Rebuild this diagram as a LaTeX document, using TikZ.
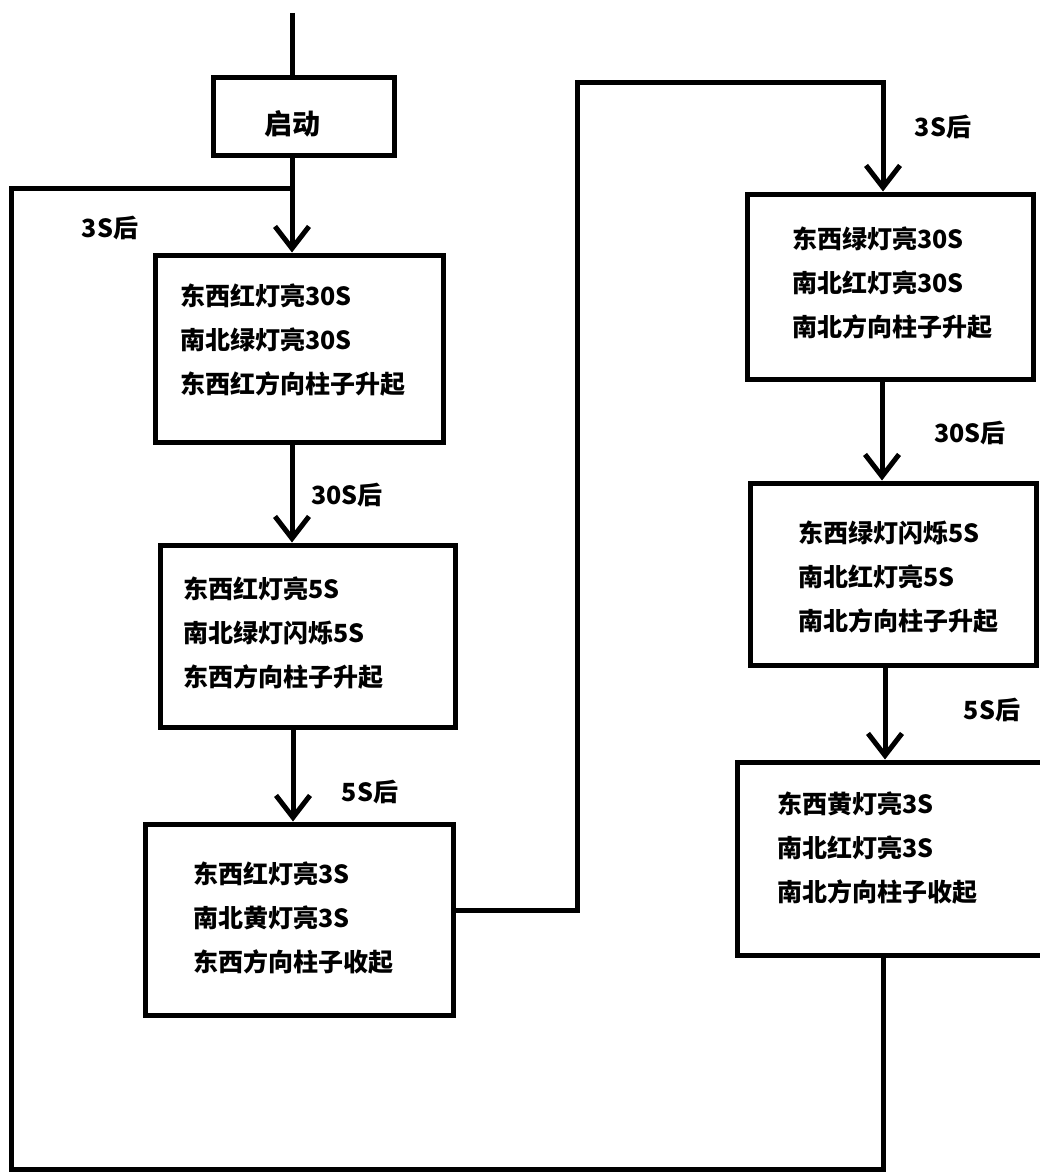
\documentclass[tikz,border=0pt]{standalone}
\usepackage{fontspec}
\setmainfont{Noto Sans CJK SC}
\usetikzlibrary{arrows.meta}
\begin{document}
\begin{tikzpicture}[x=1pt,y=-1pt,
  box/.style={draw,line width=5pt,inner sep=0pt},
  txt/.style={font=\bfseries\fontsize{25pt}{44pt}\selectfont,align=left,inner sep=0pt,anchor=west},
  lbl/.style={font=\bfseries\fontsize{25pt}{30pt}\selectfont,inner sep=0pt},
  wire/.style={line width=5pt},
  arr/.style={line width=5pt,-{Straight Barb[length=22pt,width=34pt,line width=5pt]}}
]
\useasboundingbox (0,0) rectangle (1039,1172);
\fill[white] (0,0) rectangle (1039,1172);
% boxes
\node[box,minimum width=181pt,minimum height=78pt] (start) at (303.5,116) {};
\node[box,minimum width=288pt,minimum height=187pt] (b1) at (299,348.5) {};
\node[box,minimum width=295pt,minimum height=182pt] (b2) at (307.5,636) {};
\node[box,minimum width=308pt,minimum height=191pt] (b3) at (299,919.5) {};
\node[box,minimum width=286pt,minimum height=185pt] (b4) at (890,286.5) {};
\node[box,minimum width=286pt,minimum height=182pt] (b5) at (893,574) {};
\node[box,minimum width=310pt,minimum height=193pt] (b6) at (892,858.5) {};
% texts
\node[lbl,font=\bfseries\fontsize{28pt}{30pt}\selectfont] (st) at (292,124) {启动};
\node[txt] (t1) at (180,340) {东西红灯亮30S\\南北绿灯亮30S\\东西红方向柱子升起};
\node[txt] (t2) at (183,633) {东西红灯亮5S\\南北绿灯闪烁5S\\东西方向柱子升起};
\node[txt] (t3) at (193,918) {东西红灯亮3S\\南北黄灯亮3S\\东西方向柱子收起};
\node[txt] (t4) at (792,283) {东西绿灯亮30S\\南北红灯亮30S\\南北方向柱子升起};
\node[txt] (t5) at (798,577) {东西绿灯闪烁5S\\南北红灯亮5S\\南北方向柱子升起};
\node[txt] (t6) at (777,848) {东西黄灯亮3S\\南北红灯亮3S\\南北方向柱子收起};
% labels
\node[lbl] (l1) at (110,228) {3S后};
\node[lbl] (l2) at (347,495) {30S后};
\node[lbl] (l3) at (370,792) {5S后};
\node[lbl] (l4) at (943,127) {3S后};
\node[lbl] (l5) at (970,433) {30S后};
\node[lbl] (l6) at (992,710) {5S后};
% coordinates
\coordinate (top) at (292,13);
\coordinate (j) at (292,188);
\coordinate (r1) at (577,910);
\coordinate (r2) at (577,82);
\coordinate (r3) at (883,82);
\coordinate (c6) at (883,1169);
\coordinate (cl) at (11,1169);
\coordinate (cu) at (11,188);
% connectors
\draw[wire] (top) -- (top |- start.north);
\draw[arr] (start.south -| top) -- (b1.north -| top);
\draw[arr] (b1.south -| 292,0) -- (b2.north -| 292,0);
\draw[arr] (b2.south -| 293,0) -- (b3.north -| 293,0);
\draw[arr] (b3.east |- r1) -- (r1) -- (r2) -- (r3) -- (r3 |- b4.north);
\draw[arr] (b4.south -| 882,0) -- (b5.north -| 882,0);
\draw[arr] (b5.south -| 885,0) -- (b6.north -| 885,0);
\draw[wire] (b6.south -| c6) -- (c6) -- (cl) -- (cu) -- (j);
\end{tikzpicture}
\end{document}
